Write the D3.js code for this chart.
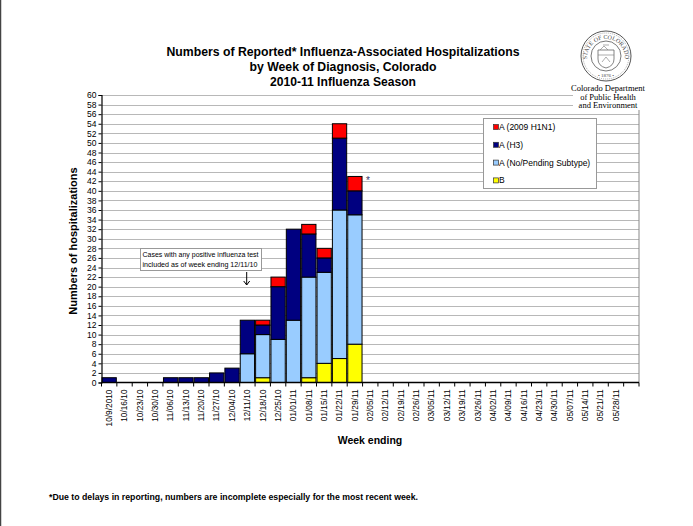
<!DOCTYPE html>
<html>
<head>
<meta charset="utf-8">
<script src="https://cdn.jsdelivr.net/npm/d3@7"></script>
<style>
  body { margin: 0; background: #fff; }
  svg { display: block; font-family: "Liberation Sans", Arial, sans-serif; }
</style>
</head>
<body>
<svg id="chart" width="693" height="526"></svg>
<script>
// week ending labels (last band is an empty slot, as in the original sheet)
const weeks = ["10/9/2010","10/16/10","10/23/10","10/30/10","11/06/10","11/13/10","11/20/10","11/27/10",
  "12/04/10","12/11/10","12/18/10","12/25/10","01/01/11","01/08/11","01/15/11","01/22/11","01/29/11",
  "02/05/11","02/12/11","02/19/11","02/26/11","03/05/11","03/12/11","03/19/11","03/26/11","04/02/11",
  "04/09/11","04/16/11","04/23/11","04/30/11","05/07/11","05/14/11","05/21/11","05/28/11",""];

// counts per week, one array per subtype
const typeB     = [0,0,0,0,0,0,0,0,0,0,1,0,0,1,4,5,8];
const aPending  = [0,0,0,0,0,0,0,0,0,6,9,9,13,21,19,31,27];
const aH3       = [1,0,0,0,1,1,1,2,3,7,2,11,19,9,3,15,5];
const aH1N1     = [0,0,0,0,0,0,0,0,0,0,1,2,0,2,2,3,3];

const seriesNames = ["B", "A (No/Pending Subtype)", "A (H3)", "A (2009 H1N1)"];
const seriesColors = ["#ffff00", "#99ccff", "#000080", "#ff0000"];
const legendOrder = ["A (2009 H1N1)", "A (H3)", "A (No/Pending Subtype)", "B"];

const yTicks = d3.range(0, 61, 2);

const svg = d3.select("#chart");

// outer page edge line on the left
svg.append("line").attr("x1", 0.5).attr("x2", 0.5).attr("y1", 0).attr("y2", 526)
  .attr("stroke", "#444").attr("stroke-width", 1.5);

const plotLeft = 101.5, plotRight = 639, plotTop = 95, plotBottom = 382.5;

const x = d3.scaleBand()
  .domain(weeks)
  .range([plotLeft, plotRight])
  .paddingInner(0.07)
  .paddingOuter(0.035);

const y = d3.scaleLinear().domain([0, 60]).range([plotBottom, plotTop]);

// build the rows for the stack
const rows = weeks.map((w, i) => ({
  week: w,
  "B": typeB[i] || 0,
  "A (No/Pending Subtype)": aPending[i] || 0,
  "A (H3)": aH3[i] || 0,
  "A (2009 H1N1)": aH1N1[i] || 0
}));

const stacked = d3.stack().keys(seriesNames)(rows);
const color = d3.scaleOrdinal().domain(seriesNames).range(seriesColors);

// gridlines
svg.append("g")
  .selectAll("line")
  .data(yTicks.filter(t => t > 0))
  .join("line")
  .attr("x1", plotLeft).attr("x2", plotRight)
  .attr("y1", d => Math.round(y(d)) + 0.5).attr("y2", d => Math.round(y(d)) + 0.5)
  .attr("stroke", "#b8b8b8").attr("stroke-width", 1);

// right border of plot area
svg.append("line").attr("x1", plotRight).attr("x2", plotRight).attr("y1", plotTop).attr("y2", plotBottom)
  .attr("stroke", "#888").attr("stroke-width", 1);

// bars
svg.append("g")
  .selectAll("g")
  .data(stacked)
  .join("g")
  .attr("fill", d => color(d.key))
  .selectAll("rect")
  .data(d => d.filter(s => s[1] - s[0] > 0))
  .join("rect")
  .attr("x", d => x(d.data.week))
  .attr("y", d => y(d[1]))
  .attr("width", x.bandwidth())
  .attr("height", d => y(d[0]) - y(d[1]))
  .attr("stroke", "#000")
  .attr("stroke-width", 1);

// y axis
const yAxis = svg.append("g")
  .attr("transform", `translate(${plotLeft},0)`)
  .call(d3.axisLeft(y).tickValues(yTicks).tickSize(3).tickPadding(2));
yAxis.select(".domain").attr("stroke", "#000").attr("stroke-width", 1.2);
yAxis.selectAll("text").attr("font-size", 8.5).attr("fill", "#000")
  .attr("font-family", "Liberation Sans, Arial, sans-serif");

// x axis line + boundary ticks
svg.append("line").attr("x1", plotLeft).attr("x2", plotRight).attr("y1", plotBottom).attr("y2", plotBottom)
  .attr("stroke", "#000").attr("stroke-width", 1.5);
const step = x.step();
svg.append("g")
  .selectAll("line")
  .data(d3.range(weeks.length + 1))
  .join("line")
  .attr("x1", i => plotLeft + i * step).attr("x2", i => plotLeft + i * step)
  .attr("y1", plotBottom).attr("y2", plotBottom + 4)
  .attr("stroke", "#000");

// rotated week labels
svg.append("g")
  .selectAll("text")
  .data(weeks)
  .join("text")
  .attr("transform", d => `translate(${x(d) + x.bandwidth() / 2},${plotBottom + 7}) rotate(-90)`)
  .attr("dy", "0.33em")
  .attr("text-anchor", "end")
  .attr("font-size", 8.3)
  .text(d => d);

// axis titles
svg.append("text")
  .attr("transform", "translate(77,241) rotate(-90)")
  .attr("text-anchor", "middle")
  .attr("font-size", 11)
  .attr("font-weight", "bold")
  .text("Numbers of hospitalizations");

svg.append("text")
  .attr("x", 370).attr("y", 444)
  .attr("text-anchor", "middle")
  .attr("font-size", 10.5)
  .attr("font-weight", "bold")
  .text("Week ending");

// title
const titleLines = [
  ["Numbers of Reported* Influenza-Associated Hospitalizations", 353],
  ["by Week of Diagnosis, Colorado", 187],
  ["2010-11 Influenza Season", 146]
];
svg.append("g")
  .selectAll("text")
  .data(titleLines)
  .join("text")
  .attr("x", 343)
  .attr("y", (d, i) => 56 + i * 15)
  .attr("text-anchor", "middle")
  .attr("font-size", 12)
  .attr("font-weight", "bold")
  .attr("textLength", d => d[1])
  .attr("lengthAdjust", "spacingAndGlyphs")
  .text(d => d[0]);

// legend
const legend = svg.append("g");
legend.append("rect")
  .attr("x", 483.5).attr("y", 118.5).attr("width", 113).attr("height", 70)
  .attr("fill", "#fff").attr("stroke", "#999");
const li = legend.selectAll("g.item")
  .data(legendOrder)
  .join("g")
  .attr("class", "item")
  .attr("transform", (d, i) => `translate(494,${127 + i * 17.8})`);
li.append("rect")
  .attr("x", -0.5).attr("y", -2.5).attr("width", 5).attr("height", 5)
  .attr("fill", d => color(d)).attr("stroke", "#333").attr("stroke-width", 0.7);
li.append("text")
  .attr("x", 5).attr("dy", "0.35em")
  .attr("font-size", 8.5)
  .text(d => d);

// asterisk on the most recent week
svg.append("text")
  .attr("x", x(weeks[16]) + x.bandwidth() + 4)
  .attr("y", y(43) + 8)
  .attr("font-size", 10)
  .attr("fill", "#333366")
  .text("*");

// annotation box with arrow
const ann = svg.append("g");
ann.append("rect").attr("x", 140.5).attr("y", 248.5).attr("width", 121).attr("height", 22)
  .attr("fill", "#fff").attr("stroke", "#999");
ann.append("text").attr("x", 142.5).attr("y", 256.5).attr("font-size", 7)
  .attr("textLength", 116).attr("lengthAdjust", "spacingAndGlyphs")
  .text("Cases with any positive influenza test");
ann.append("text").attr("x", 142.5).attr("y", 266.5).attr("font-size", 7)
  .attr("textLength", 115).attr("lengthAdjust", "spacingAndGlyphs")
  .text("included as of week ending 12/11/10");
ann.append("path")
  .attr("d", "M246.7,272 L246.7,285 M243.7,281 L246.7,285 L249.7,281")
  .attr("fill", "none").attr("stroke", "#000").attr("stroke-width", 1);

// footnote
svg.append("text")
  .attr("x", 49).attr("y", 500)
  .attr("font-size", 9)
  .attr("font-weight", "bold")
  .attr("textLength", 369)
  .attr("lengthAdjust", "spacingAndGlyphs")
  .text("*Due to delays in reporting, numbers are incomplete especially for the most recent week.");

// department seal and name (the logo image sits over the plot's top-right corner)
svg.append("rect").attr("x", 573).attr("y", 28).attr("width", 74).attr("height", 82).attr("fill", "#fff");

const seal = svg.append("g").attr("transform", "translate(606,56)");
seal.append("circle").attr("r", 25).attr("fill", "#fff").attr("stroke", "#555").attr("stroke-width", 1);
seal.append("circle").attr("r", 23).attr("fill", "none").attr("stroke", "#777").attr("stroke-width", 0.6)
  .attr("stroke-dasharray", "1,1");
seal.append("circle").attr("r", 15).attr("fill", "none").attr("stroke", "#555").attr("stroke-width", 0.8);
seal.append("path").attr("id", "sealArc").attr("d", "M-19,2 A19,19 0 0,1 19,2").attr("fill", "none");
seal.append("text").attr("font-size", 6).attr("font-family", "Liberation Serif, serif").attr("fill", "#444")
  .append("textPath").attr("href", "#sealArc").attr("startOffset", "50%").attr("text-anchor", "middle")
  .text("STATE OF COLORADO");
seal.append("text").attr("y", 21).attr("text-anchor", "middle").attr("font-size", 5)
  .attr("font-family", "Liberation Serif, serif").attr("fill", "#444").text("\u2022 1876 \u2022");
seal.append("path")
  .attr("d", "M-8,-6 L8,-6 L8,3 Q8,10 0,12 Q-8,10 -8,3 Z")
  .attr("fill", "none").attr("stroke", "#666").attr("stroke-width", 0.8);
seal.append("path").attr("d", "M-8,-1 L8,-1 M-6,-6 L-2,-10 L2,-6 M-3,-11 L3,-11")
  .attr("fill", "none").attr("stroke", "#777").attr("stroke-width", 0.6);
seal.append("path").attr("d", "M-4,6 L0,1 L4,6").attr("fill", "none").attr("stroke", "#777").attr("stroke-width", 0.6);

const dept = ["Colorado Department", "of Public Health", "and Environment"];
svg.append("g")
  .selectAll("text")
  .data(dept)
  .join("text")
  .attr("x", 608).attr("y", (d, i) => 91 + i * 8.5)
  .attr("text-anchor", "middle")
  .attr("font-family", "Liberation Serif, 'DejaVu Serif', serif")
  .attr("font-size", 8.5)
  .text(d => d);
</script>
</body>
</html>
